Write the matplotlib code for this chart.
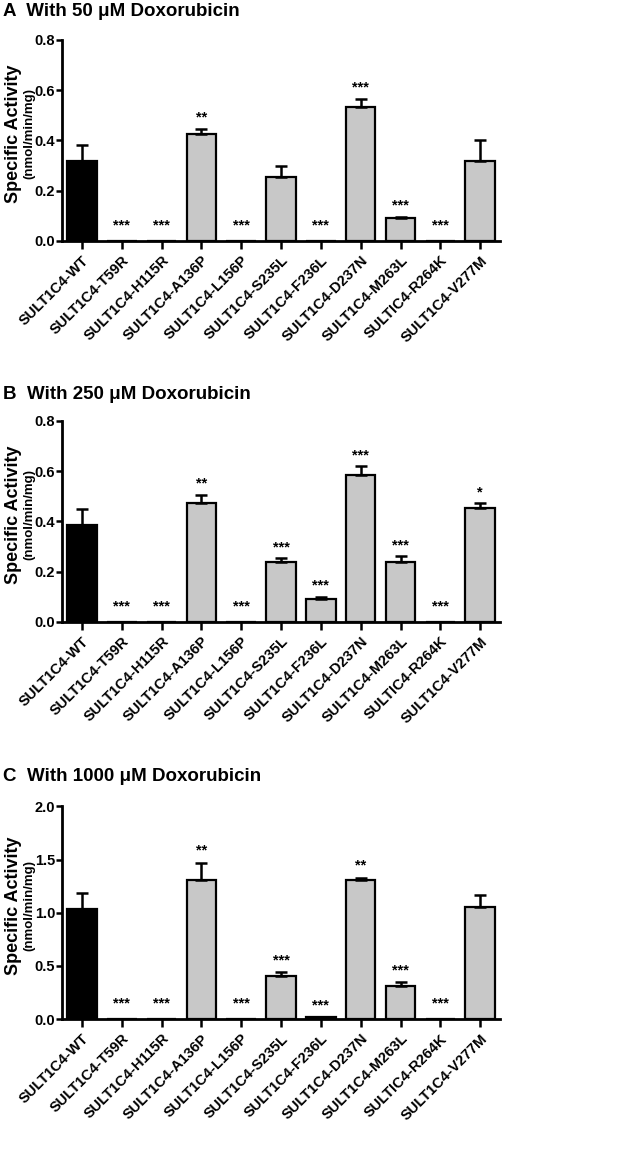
import matplotlib
matplotlib.use("Agg")
import matplotlib.pyplot as plt
import numpy as np

plt.rcParams['font.family'] = ['Liberation Sans', 'DejaVu Sans']
plt.rcParams['font.weight'] = 'bold'

labels = ["SULT1C4-WT", "SULT1C4-T59R", "SULT1C4-H115R", "SULT1C4-A136P",
          "SULT1C4-L156P", "SULT1C4-S235L", "SULT1C4-F236L", "SULT1C4-D237N",
          "SULT1C4-M263L", "SULTIC4-R264K", "SULT1C4-V277M"]

# panel A: 50 uM
mean_50 = [0.32, 0, 0, 0.427, 0, 0.253, 0, 0.531, 0.09, 0, 0.32]
err_50 = [0.062, 0, 0, 0.02, 0, 0.044, 0, 0.035, 0.007, 0, 0.082]
stars_50 = ["", "***", "***", "**", "***", "", "***", "***", "***", "***", ""]

# panel B: 250 uM
mean_250 = [0.385, 0, 0, 0.474, 0, 0.237, 0.093, 0.585, 0.24, 0, 0.455]
err_250 = [0.064, 0, 0, 0.031, 0, 0.017, 0.008, 0.034, 0.021, 0, 0.017]
stars_250 = ["", "***", "***", "**", "***", "***", "***", "***", "***", "***", "*"]

# panel C: 1000 uM
mean_1000 = [1.036, 0, 0, 1.311, 0, 0.401, 0.015, 1.311, 0.313, 0, 1.052]
err_1000 = [0.148, 0, 0, 0.161, 0, 0.041, 0.006, 0.02, 0.034, 0, 0.114]
stars_1000 = ["", "***", "***", "**", "***", "***", "***", "**", "***", "***", ""]

panels = [
    ("A  With 50 \u03bcM Doxorubicin", mean_50, err_50, stars_50, 0.8, 0.2),
    ("B  With 250 \u03bcM Doxorubicin", mean_250, err_250, stars_250, 0.8, 0.2),
    ("C  With 1000 \u03bcM Doxorubicin", mean_1000, err_1000, stars_1000, 2.0, 0.5),
]

# axes boxes in figure fractions: [left, bottom, width, height]
boxes = [[0.098, 0.7903, 0.692, 0.175],
         [0.098, 0.4587, 0.692, 0.175],
         [0.098, 0.1131, 0.692, 0.185]]
title_y = [0.9896, 0.657, 0.3245]

fig = plt.figure(figsize=(6.33, 11.49), dpi=100)

for (title, means, errs, stars, ymax, step), box, ty in zip(panels, boxes, title_y):
    ax = fig.add_axes(box)
    x = np.arange(len(labels))
    colors = ["black"] + ["#c8c8c8"] * (len(labels) - 1)
    ax.bar(x, means, width=0.74, color=colors, edgecolor="black", linewidth=1.6, zorder=2)
    for i in range(len(labels)):
        if errs[i] > 0:
            ax.errorbar(x[i], means[i], yerr=[[0], [errs[i]]], fmt="none", ecolor="black",
                        elinewidth=1.8, capsize=4.5, capthick=1.8, zorder=3)
        if stars[i]:
            if means[i] > 0:
                ys = means[i] + errs[i] + ymax * 0.055
            else:
                ys = ymax * 0.075
            ax.text(x[i], ys, stars[i], ha="center", va="center", fontsize=10.5, fontweight="bold")

    ticks = np.arange(0, ymax + step / 2, step)
    ax.set_xlim(-0.5, 10.5)
    ax.set_ylim(0, ymax)
    ax.set_yticks(ticks)
    ax.set_yticklabels(["%.1f" % v for v in ticks], fontsize=10.5, fontweight="bold")
    ax.set_xticks(x)
    ax.set_xticklabels(labels, rotation=45, ha="right", rotation_mode="anchor",
                       fontsize=10.5, fontweight="bold")
    ax.spines["top"].set_visible(False)
    ax.spines["right"].set_visible(False)
    ax.spines["left"].set_linewidth(2)
    ax.spines["bottom"].set_linewidth(2)
    ax.tick_params(axis="y", length=4, width=1.8, pad=1)
    ax.tick_params(axis="x", length=6, width=1.8, pad=3)

    cy = box[1] + box[3] / 2 + 0.006
    fig.text(0.021, cy, "Specific Activity", rotation=90,
             ha="center", va="center", fontsize=13, fontweight="bold")
    fig.text(0.046, cy, "(nmol/min/mg)", rotation=90,
             ha="center", va="center", fontsize=9.5, fontweight="bold")

    fig.text(0.005, ty, title, ha="left", va="center", fontsize=13.5, fontweight="bold")

fig.savefig("out.png", dpi=100)
